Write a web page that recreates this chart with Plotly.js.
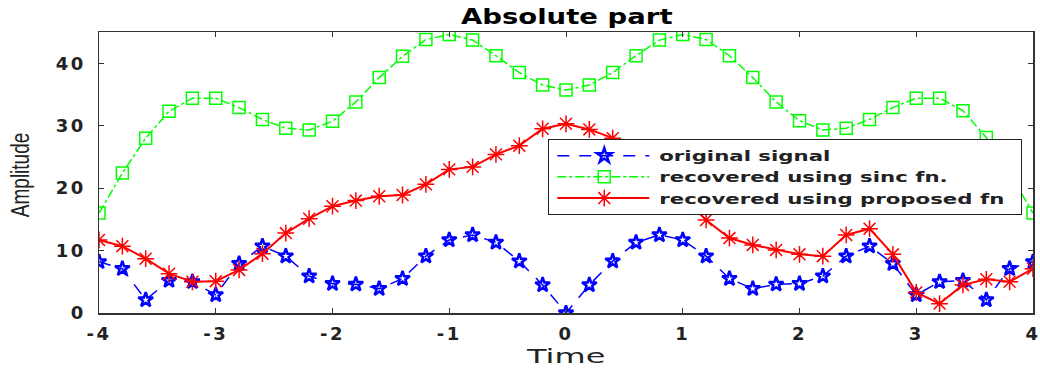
<!DOCTYPE html>
<html><head><meta charset="utf-8">
<script src="https://cdn.plot.ly/plotly-3.0.1.min.js"></script>
<style>
html,body{margin:0;padding:0;background:#fff}#c{width:1040px;height:370px}
#c .xtick text, #c .ytick text { letter-spacing: 2.5px; }
#c .legendtext { transform-box: fill-box; transform-origin: left center; transform: scaleX(1.52); }
#c .gtitle { transform-box: fill-box; transform-origin: center; transform: scaleX(1.31); }
#c .xtitle { transform-box: fill-box; transform-origin: center; transform: scaleX(1.6); }
#c .ytitle { transform-box: fill-box; transform-origin: center; transform: translate(-15px, 9px) rotate(-90deg) scaleY(1.4); }
</style>
</head><body><div id="c"></div>
<script>
var time = [-4,-3.8,-3.6,-3.4,-3.2,-3,-2.8,-2.6,-2.4,-2.2,-2,-1.8,-1.6,-1.4,-1.2,-1,-0.8,-0.6,-0.4,-0.2,0,0.2,0.4,0.6,0.8,1,1.2,1.4,1.6,1.8,2,2.2,2.4,2.6,2.8,3,3.2,3.4,3.6,3.8,4];
var original = [8.2,7.1,2.1,5.2,5.0,2.9,7.9,10.7,9.1,5.9,4.7,4.6,3.9,5.5,9.1,11.7,12.5,11.3,8.3,4.5,0,4.5,8.3,11.3,12.5,11.7,9.1,5.5,3.9,4.6,4.7,5.9,9.1,10.7,7.9,2.9,5.0,5.2,2.1,7.1,8.2];
var sincRec = [16.0,22.4,28.0,32.3,34.4,34.4,32.9,31.0,29.6,29.3,30.7,33.8,37.7,41.1,43.8,44.6,43.7,41.2,38.5,36.5,35.7,36.5,38.5,41.2,43.7,44.6,43.8,41.2,37.7,33.8,30.8,29.3,29.6,31.0,32.9,34.4,34.4,32.4,28.1,22.4,16.0];
var proposedRec = [11.7,10.7,8.7,6.3,5.0,5.1,6.9,9.5,12.8,15.1,17.1,18.0,18.7,18.9,20.6,23.0,23.4,25.4,26.8,29.5,30.3,29.4,28.0,25.2,22.0,18.6,14.9,12.0,10.9,10.1,9.4,9.1,12.5,13.5,9.4,3.3,1.5,4.5,5.4,5.0,7.1];
var xTicks = [-4,-3,-2,-1,0,1,2,3,4];
var xTickText = ["-4","-3","-2","-1","0","1","2","3","4"];
var yTicks = [0,10,20,30,40];
var names = ["original signal","recovered using sinc fn.","recovered using proposed fn"];

var traces = [
  {x: time, y: original, name: names[0], mode: "lines+markers",
   line: {color: "#0000ff", width: 1.5, dash: "12px,10px"},
   marker: {symbol: "star-open", size: 11, color: "#0000ff", line: {color: "#0000ff", width: 2.5}}},
  {x: time, y: sincRec, name: names[1], mode: "lines+markers",
   line: {color: "#00ff00", width: 1.5, dash: "dashdot"},
   marker: {symbol: "square-open", size: 12, color: "#00ff00", line: {color: "#00ff00", width: 1.5}}},
  {x: time, y: proposedRec, name: names[2], mode: "lines+markers",
   line: {color: "#ff0000", width: 2},
   marker: {symbol: "asterisk-open", size: 14, color: "#ff0000", line: {color: "#ff0000", width: 1.5}}}
];
var dv = "DejaVu Sans, sans-serif";
var tickF = {family: dv, size: 18, color: "#222", weight: "bold"};
var layout = {
  width: 1040, height: 370,
  margin: {l: 99, r: 7, t: 32, b: 57},
  paper_bgcolor: "#fff", plot_bgcolor: "#fff",
  font: {family: dv, size: 16, color: "#222"},
  showlegend: true,
  title: {text: "<b>Absolute part</b>", x: 0.545, xanchor: "center", y: 0.955, yanchor: "middle",
          font: {family: dv, size: 21, color: "#000"}},
  xaxis: {range: [-4, 4], tickvals: xTicks, ticktext: xTickText, ticks: "inside", ticklen: 5, tickcolor: "#333",
          showline: true, linecolor: "#333", linewidth: 1.5, mirror: "ticks", showgrid: false, zeroline: false,
          tickfont: tickF, ticklabelstandoff: 4,
          title: {text: "Time", font: {family: dv, size: 20, color: "#222"}, standoff: 2}},
  yaxis: {range: [0, 45], tickvals: yTicks, ticks: "inside", ticklen: 5, tickcolor: "#333",
          showline: true, linecolor: "#333", linewidth: 1.5, mirror: "ticks", showgrid: false, zeroline: false,
          tickfont: tickF, ticklabelstandoff: 8,
          title: {text: "Amplitude", font: {family: "Liberation Sans, Arial, sans-serif", size: 19, color: "#222"}, standoff: 20}},
  legend: {x: 0.481, y: 0.619, xanchor: "left", yanchor: "top", bgcolor: "#fff", bordercolor: "#222", borderwidth: 1,
           font: {family: dv, size: 14, color: "#222", weight: "bold"}, tracegroupgap: 0, itemwidth: 100}
};
Plotly.newPlot("c", traces, layout, {displayModeBar: false, staticPlot: true}).then(function(){
  document.querySelectorAll("#c .legend .legendlines path").forEach(function(p){ p.setAttribute("d", "M8,0h92"); });
  document.querySelectorAll("#c .legend .scatterpts").forEach(function(p){ p.setAttribute("transform", "translate(55,0)"); });
  var bg = document.querySelector("#c .legend rect.bg");
  if (bg) bg.setAttribute("width", "473");
  var sb = document.querySelector("#c .legend .scrollbox");
  if (sb) sb.removeAttribute("clip-path");
});
</script></body></html>
